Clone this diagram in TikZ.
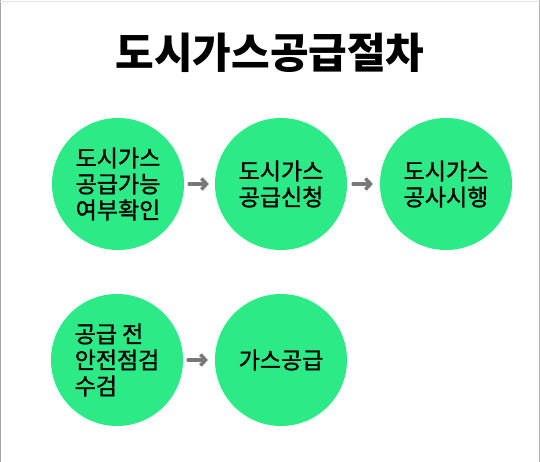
\documentclass[tikz,border=0pt]{standalone}
\usepackage{fontspec}
\usepackage{xcolor}
\usepackage{tikz}
\usetikzlibrary{arrows.meta}
\newfontfamily\cjk{Noto Sans CJK KR}
\newfontfamily\cjkmed[FakeBold=1.3]{Noto Sans CJK KR}
\definecolor{gasgreen}{RGB}{44,234,134}
\definecolor{arrowgray}{RGB}{120,120,120}

\begin{document}
\begin{tikzpicture}[x=1pt,y=-1pt,
    stepcircle/.style={circle,fill=gasgreen,minimum size=132pt,inner sep=0pt,
        font=\cjkmed\fontsize{23}{26}\selectfont,align=center},
    flow/.style={draw=arrowgray,line width=3.5pt,line cap=round,
        -{Straight Barb[length=5pt,width=11pt]}}]
    \useasboundingbox (0,0) rectangle (540,462);
    \fill[white] (0,0) rectangle (540,462);
    % frame
    \draw[black!35,line width=1.2pt] (0.6,0) -- (0.6,462);
    \draw[black!30,line width=1pt] (539.5,0) -- (539.5,462);
    \draw[black!10,line width=1pt] (0,1.5) -- (540,1.5);

    \node[font=\cjk\bfseries\fontsize{42}{48}\selectfont] (title) at (270,53) {도시가스공급절차};

    \node[stepcircle] (check) at (118,184) {도시가스\\공급가능\\여부확인};
    \node[stepcircle] (apply) at (281,184) {도시가스\\공급신청};
    \node[stepcircle] (build) at (446,184) {도시가스\\공사시행};
    \node[stepcircle,align=left] (inspect) at (117,360) {공급 전\\안전점검\\수검};
    \node[stepcircle] (supply) at (281,360) {가스공급};

    \draw[flow] ([xshift=5pt]check.east) -- ([xshift=-6pt]apply.west);
    \draw[flow] ([xshift=6pt]apply.east) -- ([xshift=-7pt]build.west);
    \draw[flow] ([xshift=5pt]inspect.east) -- ([xshift=-7pt]supply.west);
\end{tikzpicture}
\end{document}
